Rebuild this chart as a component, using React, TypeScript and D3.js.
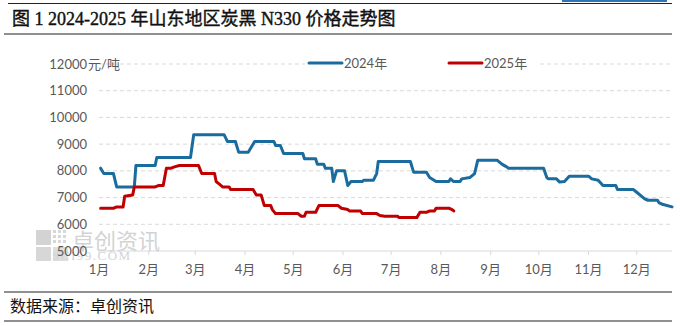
import React from "react";
import * as d3 from "d3";

const title = "图 1 2024-2025 年山东地区炭黑 N330 价格走势图";
const source = "数据来源：卓创资讯";
const unit = "元/吨";
const yTicks = [5000, 6000, 7000, 8000, 9000, 10000, 11000, 12000];
const months = ["1月", "2月", "3月", "4月", "5月", "6月", "7月", "8月", "9月", "10月", "11月", "12月"];
const seriesNames = ["2024年", "2025年"];

const dates2024 = ["01-02","01-04","01-10","01-12","01-23","01-24","02-05","02-06","02-27","02-29","03-19","03-21","03-26","03-28","04-03","04-05","04-07","04-19","04-20","04-23","04-25","05-07","05-08","05-15","05-16","05-20","05-21","05-25","05-26","05-28","06-02","06-04","06-06","06-13","06-14","06-20","06-22","06-23","07-13","07-15","07-23","07-25","07-29","08-06","08-07","08-09","08-13","08-14","08-19","08-22","08-24","09-05","09-08","09-11","09-12","10-04","10-06","10-07","10-12","10-14","10-17","10-20","11-01","11-03","11-07","11-10","11-18","11-19","11-29","12-01","12-03","12-06","12-08","12-14","12-15","12-17","12-23"];
const values2024 = [8100,7900,7900,7400,7400,8200,8200,8500,8500,9350,9350,9100,9100,8700,8700,8900,9100,9100,8950,8950,8650,8650,8450,8450,8250,8250,8100,8100,7600,8000,8000,7450,7600,7600,7650,7650,7900,8350,8350,7950,7950,7750,7600,7600,7700,7600,7600,7700,7750,7900,8400,8400,8250,8150,8100,8100,7750,7700,7700,7580,7600,7800,7800,7700,7650,7450,7450,7300,7300,7200,7100,6950,6900,6900,6800,6750,6650];

const dates2025 = ["01-02","01-10","01-12","01-16","01-17","01-22","01-23","02-05","02-07","02-10","02-12","02-15","02-17","02-20","03-03","03-05","03-13","03-14","03-16","03-18","03-22","03-23","04-06","04-08","04-11","04-13","04-17","04-18","04-20","05-04","05-06","05-08","05-09","05-15","05-17","05-29","05-31","06-04","06-05","06-12","06-13","06-22","06-24","06-27","07-05","07-06","07-17","07-19","07-23","07-25","07-28","07-29","08-06","08-08","08-09"];
const values2025 = [6600,6600,6650,6650,7050,7100,7400,7400,7450,7450,8100,8100,8150,8200,8200,7900,7900,7600,7500,7400,7400,7300,7300,7100,7100,6700,6700,6550,6400,6400,6300,6300,6450,6450,6700,6700,6600,6550,6500,6500,6400,6400,6330,6300,6300,6250,6250,6450,6450,6500,6500,6600,6600,6550,6500];

const COLORS = ["#1b6c9e", "#c00000"];
const W = 680, H = 326;
const parse = (s: string) => new Date(2024, +s.slice(0, 2) - 1, +s.slice(3, 5));

export default function App() {
  const x = d3.scaleTime().domain([new Date(2024, 0, 1), new Date(2024, 11, 23)]).range([99, 672]);
  const y = d3.scaleLinear().domain([5000, 12000]).range([251, 64]);
  const line = d3.line<[Date, number]>().x(d => x(d[0])).y(d => y(d[1]));
  const s2024: [Date, number][] = dates2024.map((d, i) => [parse(d), values2024[i]]);
  const s2025: [Date, number][] = dates2025.map((d, i) => [parse(d), values2025[i]]);
  const monthDates = months.map((_, i) => new Date(2024, i, 1));
  const labelFont = "Lato, 'Noto Sans CJK SC', sans-serif";
  const [x0, x1] = x.range();
  return (
    <svg width={W} height={H} style={{ position: "fixed", left: 0, top: 0, background: "#fff" }}>
      <rect width={W} height={H} fill="#fff" />
      {/* header */}
      <rect x={562} y={0} width={105} height={2} fill="#2e75b6" />
      <line x1={8} x2={672} y1={3.5} y2={3.5} stroke="#222" strokeWidth={1.2} />
      <text x={12} y={25} fontSize={18} fill="#111" stroke="#111" strokeWidth={0.4}
        fontFamily="'Liberation Serif', 'Noto Sans CJK SC', serif">{title}</text>
      <line x1={4} x2={672} y1={34} y2={34} stroke="#222" strokeWidth={1.2} />

      {/* watermark */}
      <g opacity={0.55}>
        <rect x={36} y={230} width={15} height={15} fill="#b0b0b0" />
        <g fill="#b8b8b8">
          {d3.range(3).map(r => d3.range(3).map(c => (
            <rect key={`${r}-${c}`} x={53 + c * 5} y={230 + r * 5} width={3} height={3} />
          )))}
        </g>
        <rect x={36} y={247} width={15} height={14} fill="#b8b8b8" />
        <rect x={53} y={247} width={15} height={14} fill="#c4c4c4" />
        <text x={72} y={249} fontSize={22} fill="#b0b0b0" fontFamily="'Noto Sans CJK SC', sans-serif">卓创资讯</text>
        <text x={52} y={260} fontSize={13} fill="#b0b0b0" letterSpacing={1.5} fontFamily="'Liberation Serif', serif">SCI99.COM</text>
      </g>

      {/* grid */}
      {yTicks.filter(t => t > 5000).map(t => (
        <line key={t} x1={x0} x2={x1} y1={y(t)} y2={y(t)} stroke="#d9d9d9" strokeDasharray="4,3" />
      ))}
      <line x1={x0} x2={x1} y1={y(5000)} y2={y(5000)} stroke="#d9d9d9" />
      {monthDates.map((d, i) => (
        <line key={i} x1={x(d)} x2={x(d)} y1={y(5000)} y2={y(5000) + 4} stroke="#d9d9d9" />
      ))}

      {/* y labels */}
      {yTicks.map(t => (
        <text key={t} x={87} y={y(t)} dy="0.35em" textAnchor="end" fontSize={13} fill="#595959" fontFamily={labelFont}>{t}</text>
      ))}
      <text x={88} y={y(12000)} dy="0.35em" fontSize={13} fill="#595959" fontFamily={labelFont}>{unit}</text>

      {/* x labels */}
      {monthDates.map((d, i) => (
        <text key={i} x={x(d)} y={269} dy="0.35em" textAnchor="middle" fontSize={13} fill="#595959" fontFamily={labelFont}>{months[i]}</text>
      ))}

      {/* legend */}
      <rect x={305} y={55} width={232} height={16} fill="#fff" />
      {seriesNames.map((n, i) => {
        const lx = 309 + i * 140;
        return (
          <g key={n}>
            <line x1={lx} x2={lx + 33} y1={63} y2={63} stroke={COLORS[i]} strokeWidth={3} strokeLinecap="round" />
            <text x={lx + 35} y={63} dy="0.35em" fontSize={13} fill="#595959" fontFamily={labelFont}>{n}</text>
          </g>
        );
      })}

      {/* lines */}
      <path d={line(s2024) || ""} fill="none" stroke={COLORS[0]} strokeWidth={3} strokeLinejoin="round" strokeLinecap="round" />
      <path d={line(s2025) || ""} fill="none" stroke={COLORS[1]} strokeWidth={3} strokeLinejoin="round" strokeLinecap="round" />

      {/* footer */}
      <line x1={4} x2={672} y1={292} y2={292} stroke="#222" strokeWidth={1.2} />
      <text x={10} y={312} fontSize={16} fill="#111" fontFamily="'Noto Sans CJK SC', sans-serif">{source}</text>
      <line x1={4} x2={672} y1={321} y2={321} stroke="#222" strokeWidth={1.2} />
    </svg>
  );
}
